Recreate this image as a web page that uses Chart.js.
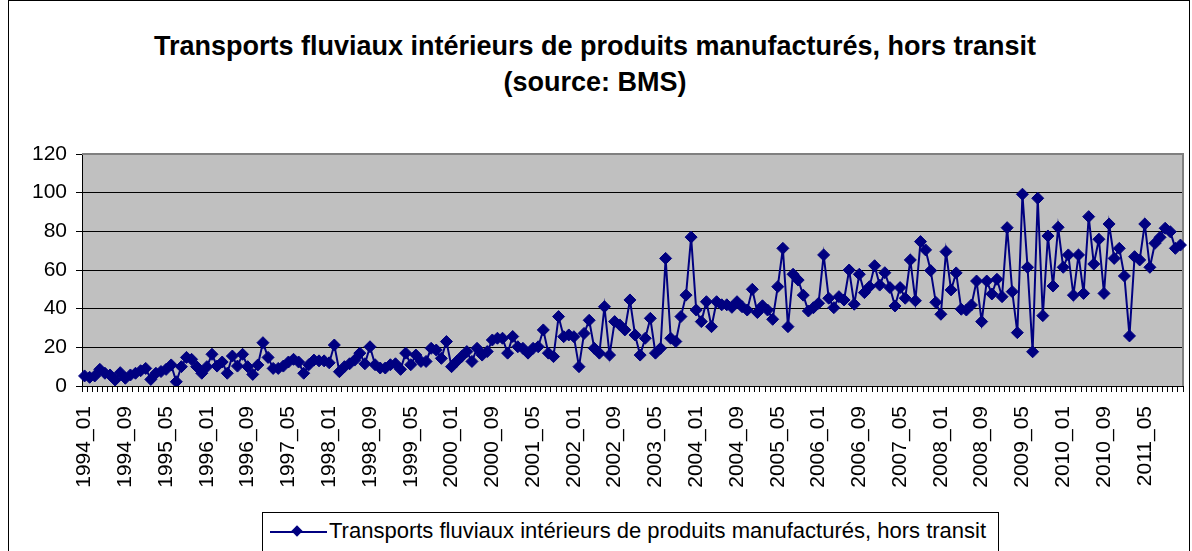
<!DOCTYPE html>
<html>
<head>
<meta charset="utf-8">
<script src="https://cdn.jsdelivr.net/npm/chart.js@4/dist/chart.umd.min.js"></script>
<style>
    body { margin: 0; background: #fff; width: 1192px; height: 551px; overflow: hidden; position: relative; font-family: "Liberation Sans", Arial, sans-serif; }
    #frame { position: absolute; left: 8px; top: 0; width: 1182px; height: 600px; border: 1px solid #000; box-sizing: border-box; }
    #title { position: absolute; left: 0; top: 28px; width: 1190px; text-align: center; font-weight: bold; font-size: 27px; line-height: 36px; color: #000; }
    #chart { position: absolute; left: 0; top: 0; }
    #legend { position: absolute; left: 262px; top: 512px; width: 737px; height: 45px; border: 1px solid #000; box-sizing: border-box; background: #fff; }
    #legend .line { position: absolute; left: 7px; top: 18px; width: 57px; height: 2px; background: #000080; }
    #legend .dot { position: absolute; left: 30px; top: 14px; width: 8px; height: 8px; background: #000080; transform: rotate(45deg); }
    #legend .txt { position: absolute; left: 66px; top: 5px; font-size: 22px; line-height: 26px; white-space: nowrap; }
</style>
</head>
<body>
<div id="frame"></div>
<div id="title">Transports fluviaux intérieurs de produits manufacturés, hors transit<br>(source: BMS)</div>
<canvas id="chart" width="1192" height="551"></canvas>
<div id="legend"><div class="line"></div><div class="dot"></div><div class="txt">Transports fluviaux intérieurs de produits manufacturés, hors transit</div></div>

<script>
const seriesName = 'Transports fluviaux intérieurs de produits manufacturés, hors transit';
const years = [1994, 1995, 1996, 1997, 1998, 1999, 2000, 2001, 2002, 2003, 2004, 2005, 2006, 2007, 2008, 2009, 2010, 2011];
const months = ['01', '02', '03', '04', '05', '06', '07', '08', '09', '10', '11', '12'];
const yTicks = [0, 20, 40, 60, 80, 100, 120];

// monthly values, 1994_01 .. 2011_12
const values = [
    5.2, 4.5, 5.2, 8.6, 6.6, 5.7, 3.1, 6.9, 4, 5.7, 6.6, 7.9,
    9.1, 3.4, 6.6, 7.5, 8.6, 10.9, 2.2, 10, 14.8, 13.8, 10, 6.6,
    10, 16.4, 10.3, 12.4, 6.6, 15.5, 10.3, 16.4, 10, 6, 10.9, 22.4,
    14.8, 9.1, 9.1, 10.3, 12.4, 13.8, 12.4, 6.6, 11, 13.4, 13, 13,
    12, 21.2, 7.4, 10, 11.5, 13.4, 17, 11.5, 20.3, 11, 9.3, 9.3,
    11, 11.5, 8.6, 17, 11, 16, 12.7, 12.7, 19.5, 18.6, 14.3, 23,
    10, 12.7, 15.3, 17.8, 12.7, 19.5, 16, 17.8, 23.8, 24.7, 24.7, 17,
    25.6, 20.3, 19.5, 17, 19.5, 20.3, 29, 17, 15.2, 35.9, 25.5, 26.4,
    25.5, 10, 27.2, 34, 19.5, 17, 41, 16, 33.3, 31.6, 29, 44.5,
    26.4, 16, 24.7, 35, 17, 19.5, 66, 24.7, 23, 35.9, 47, 77,
    39.3, 33.3, 43.6, 30.7, 43.6, 42, 42, 40.7, 43.6, 41, 39.3, 50,
    38, 41.5, 39.3, 34.5, 51.4, 71.2, 30.7, 57.8, 54.8, 47, 38.8, 40.5,
    42.8, 67.8, 45.4, 40.5, 46.2, 44.5, 60, 42.3, 57.8, 48.3, 51.4, 62.2,
    52.2, 58.6, 50.9, 41.4, 50.9, 45.4, 65.2, 44.1, 74.7, 70.4, 59.7, 43.3,
    37.1, 69.5, 49.7, 58.5, 39.7, 39.3, 41.9, 54.3, 33.3, 54.3, 47.6, 55.2,
    46.2, 81.9, 48.8, 27.6, 99.2, 61.4, 17.7, 97.1, 36.4, 77.6, 51.7, 82.1,
    61.4, 67.8, 47, 67.8, 47.9, 87.6, 63.1, 75.9, 47.9, 83.8, 66, 71.2,
    56.9, 25.9, 66.9, 65.2, 83.8, 61.4, 73.8, 76.9, 81.6, 79.8, 71.2, 72.9
];

const categories = [];
years.forEach(y => months.forEach(m => categories.push(y + '_' + m)));

// grey plot area with a grey frame, like the Excel default
const plotArea = {
    id: 'plotArea',
    beforeDraw(chart) {
        const a = chart.chartArea, ctx = chart.ctx;
        ctx.save();
        ctx.fillStyle = '#C0C0C0';
        ctx.fillRect(a.left, a.top, a.right - a.left, a.bottom - a.top);
        ctx.restore();
    },
    beforeDatasetsDraw(chart) {
        const a = chart.chartArea, ctx = chart.ctx;
        ctx.save();
        ctx.strokeStyle = '#808080';
        ctx.lineWidth = 2;
        ctx.beginPath();
        ctx.moveTo(a.left, a.top);
        ctx.lineTo(a.right, a.top);
        ctx.lineTo(a.right, a.bottom);
        ctx.stroke();
        ctx.restore();
    }
};

const font = { family: '"Liberation Sans", Arial, sans-serif', size: 21 };

new Chart(document.getElementById('chart'), {
    type: 'line',
    data: {
        labels: categories,
        datasets: [{
            label: seriesName,
            data: values,
            borderColor: '#000080',
            backgroundColor: '#000080',
            borderWidth: 2,
            pointStyle: 'rectRot',
            pointRadius: 6,
            pointBorderWidth: 1,
            tension: 0
        }]
    },
    options: {
        responsive: false,
        animation: false,
        layout: { padding: { top: 154, right: 9, left: 0, bottom: 0 } },
        plugins: { legend: { display: false }, tooltip: { enabled: false } },
        scales: {
            x: {
                offset: true,
                afterFit: s => { s.height = 165; s.paddingLeft = 0; s.paddingRight = 0; },
                grid: { offset: true, drawOnChartArea: false, color: '#000', tickLength: 6 },
                border: { color: '#000' },
                ticks: {
                    autoSkip: false, minRotation: 90, maxRotation: 90, padding: 14,
                    color: '#000', font: font,
                    callback: (v, i) => i % 8 === 0 ? categories[i] : ''
                }
            },
            y: {
                min: 0, max: 120,
                afterFit: s => { s.width = 82; },
                afterBuildTicks: s => { s.ticks = yTicks.map(v => ({ value: v })); },
                grid: {
                    color: c => c.tick && c.tick.value === 120 ? '#808080' : '#000',
                    tickColor: '#000', tickLength: 6
                },
                border: { color: '#000' },
                ticks: { padding: 9, color: '#000', font: font }
            }
        }
    },
    plugins: [plotArea]
});
</script>
</body>
</html>
